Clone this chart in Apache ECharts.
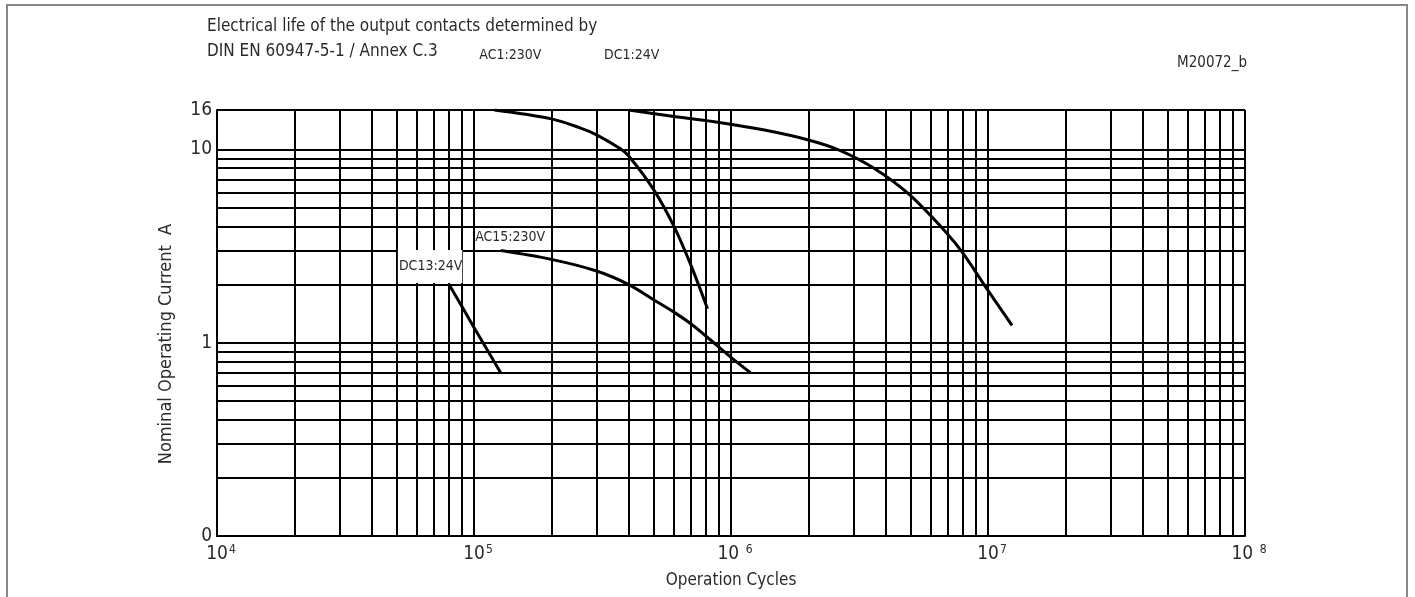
<!DOCTYPE html>
<html>
<head>
<meta charset="utf-8">
<script src="https://cdn.jsdelivr.net/npm/echarts@6/dist/echarts.min.js"></script>
<style>
  html, body { margin: 0; padding: 0; background: #fff; }
  #chart { width: 1415px; height: 597px; }
</style>
</head>
<body>
<div id="chart"></div>
<script>
// ---- data ----
const seriesNames = ['AC1:230V', 'DC1:24V', 'AC15:230V', 'DC13:24V'];

const ac1Cycles  = [1.2e5, 2.0e5, 2.6e5, 3.0e5, 3.7e5, 4.0e5, 5.0e5, 6.0e5, 7.0e5, 8.1e5];
const ac1Current = [16, 14.4, 12.9, 11.9, 10.1, 9.25, 6.2, 4.0, 2.5, 1.5];

const dc1Cycles  = [4.0e5, 6.0e5, 9.0e5, 1.35e6, 2.0e6, 2.65e6, 3.6e6, 4.9e6, 6.9e6, 8.0e6, 9.9e6, 1.24e7];
const dc1Current = [16, 14.8, 13.8, 12.6, 11.2, 9.9, 8.0, 5.9, 3.7, 2.9, 1.9, 1.23];

const ac15Cycles  = [1.27e5, 2.0e5, 3.0e5, 4.0e5, 5.0e5, 6.0e5, 7.0e5, 8.0e5, 1.0e6, 1.19e6];
const ac15Current = [3.0, 2.7, 2.35, 2.0, 1.67, 1.44, 1.25, 1.08, 0.84, 0.7];

const dc13Cycles  = [8.0e4, 9.0e4, 1.0e5, 1.27e5];
const dc13Current = [2.0, 1.53, 1.2, 0.7];

// axis ticks / labels
const xDecades = [1e4, 1e5, 1e6, 1e7];
const yDecades = [0.1, 1];
const minorMultipliers = [2, 3, 4, 5, 6, 7, 8, 9];
const xTickLabels = { 4: '10{s|4}', 5: '10{s|5}', 6: '10 {s|6}', 7: '10{s|7}', 8: '10 {s|8}' };
const yTickLabels = { '0.1': '0', '1': '1', '10': '10', '16': '16' };

const titleLines = ['Electrical life of the output contacts determined by', 'DIN EN 60947-5-1 / Annex C.3'];
const drawingId = 'M20072_b';
const xName = 'Operation Cycles';
const yName = 'Nominal Operating Current  A';

// ---- styling ----
const FONT = "'Liberation Sans Narrow', 'Arial Narrow', 'DejaVu Sans Condensed', sans-serif";
const TXT = '#2a2a2a';
const GRID_W = 2;

const labelStyles = [
  { offset: [16, -55] },
  { offset: [3, -55] },
  { offset: [10, -13], backgroundColor: '#fff', padding: [1, 1, 1, 0] },
  { offset: [-19, -18], backgroundColor: '#fff', padding: [15, 0, 4, 1] }
];

function buildData(xs, ys, idx) {
  return xs.map((x, i) => {
    const item = { value: [x, ys[i]] };
    if (i === 0) {
      item.label = Object.assign({
        show: true,
        position: 'inside',
        formatter: seriesNames[idx],
        fontFamily: FONT,
        fontSize: 14,
        color: TXT
      }, labelStyles[idx]);
    }
    return item;
  });
}

const xMinor = [];
xDecades.forEach(d => minorMultipliers.forEach(m => xMinor.push({ xAxis: m * d })));
const yMinor = [];
yDecades.forEach(d => minorMultipliers.forEach(m => yMinor.push({ yAxis: m * d })));

const curveDefs = [
  [ac1Cycles, ac1Current, 0.35],
  [dc1Cycles, dc1Current, 0.35],
  [ac15Cycles, ac15Current, 0.35],
  [dc13Cycles, dc13Current, 0.25]
];

const series = [{
  type: 'line',
  name: 'grid',
  data: [],
  z: 1,
  silent: true,
  markLine: {
    silent: true,
    animation: false,
    symbol: ['none', 'none'],
    label: { show: false },
    emphasis: { disabled: true },
    lineStyle: { color: '#000', width: GRID_W, type: 'solid' },
    data: xMinor.concat(yMinor)
  }
}];

curveDefs.forEach((c, i) => {
  series.push({
    type: 'line',
    name: seriesNames[i],
    data: buildData(c[0], c[1], i),
    smooth: c[2],
    showSymbol: true,
    symbol: 'circle',
    symbolSize: 0,
    z: 5,
    silent: true,
    lineStyle: { color: '#000', width: 3 },
    itemStyle: { color: '#000' },
    emphasis: { disabled: true },
    animation: false
  });
});

const chart = echarts.init(document.getElementById('chart'), null, { renderer: 'canvas' });
chart.setOption({
  animation: false,
  backgroundColor: '#fff',
  textStyle: { fontFamily: FONT },
  title: [{
    text: titleLines.join('\n'),
    left: 202,
    top: 9,
    textStyle: { fontFamily: FONT, fontSize: 17, fontWeight: 'normal', color: TXT, lineHeight: 25 }
  }, {
    text: drawingId,
    right: 163,
    top: 51,
    textStyle: { fontFamily: FONT, fontSize: 15, fontWeight: 'normal', color: TXT }
  }],
  graphic: [{
    type: 'rect',
    shape: { x: 7, y: 5, width: 1400, height: 600 },
    style: { fill: 'none', stroke: '#888', lineWidth: 2 },
    silent: true,
    z: -1
  }],
  grid: { left: 217, right: 170, top: 110, bottom: 61, containLabel: false },
  xAxis: {
    type: 'log',
    logBase: 10,
    min: 1e4,
    max: 1e8,
    name: xName,
    nameLocation: 'middle',
    nameGap: 36,
    nameTextStyle: { fontFamily: FONT, fontSize: 17, color: TXT },
    axisLine: { show: true, lineStyle: { color: '#000', width: GRID_W } },
    axisTick: { show: false },
    splitLine: { show: true, lineStyle: { color: '#000', width: GRID_W } },
    axisLabel: {
      margin: 8,
      color: TXT,
      fontFamily: FONT,
      fontSize: 19,
      lineHeight: 20,
      padding: [0, 0, 0, 8],
      formatter: v => xTickLabels[Math.round(Math.log10(v))] || '',
      rich: {
        s: { fontSize: 12, lineHeight: 20, verticalAlign: 'top', color: TXT, fontFamily: FONT, padding: [0, 0, 6, 1] }
      }
    }
  },
  yAxis: {
    type: 'log',
    logBase: 10,
    min: 0.1,
    max: 16,
    name: yName,
    nameLocation: 'middle',
    nameGap: 42,
    nameTextStyle: { fontFamily: FONT, fontSize: 18, color: TXT, padding: [0, 42, 0, 0] },
    axisLine: { show: true, lineStyle: { color: '#000', width: GRID_W } },
    axisTick: { show: false },
    splitLine: { show: true, lineStyle: { color: '#000', width: GRID_W } },
    axisLabel: {
      margin: 5,
      color: TXT,
      fontFamily: FONT,
      fontSize: 19,
      showMinLabel: true,
      showMaxLabel: true,
      formatter: v => {
        const key = String(+v.toPrecision(3));
        return yTickLabels[key] !== undefined ? yTickLabels[key] : '';
      }
    }
  },
  series: series
});
</script>
</body>
</html>
